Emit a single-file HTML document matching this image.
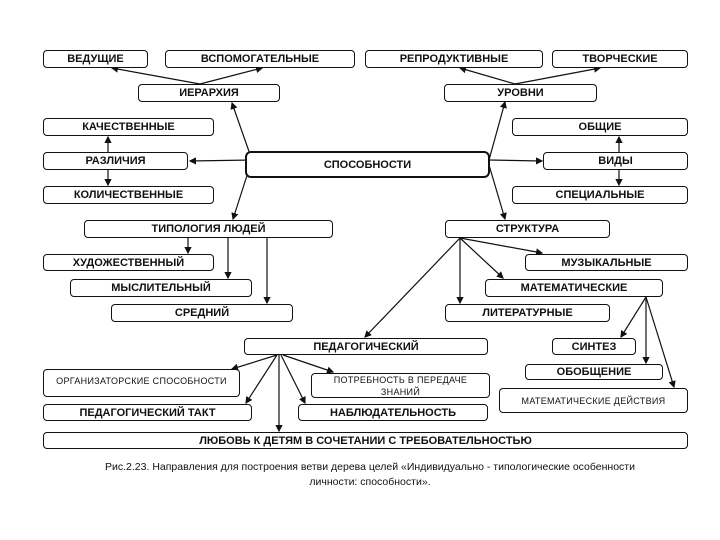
<!DOCTYPE html>
<html><head><meta charset="utf-8"><style>
body{margin:0;background:#fff;width:720px;height:540px;overflow:hidden;position:relative;font-family:"Liberation Sans",sans-serif}
.b{position:absolute;box-sizing:border-box;border:1.3px solid #111;border-radius:4px;background:#fff;display:flex;align-items:center;justify-content:center;font-size:11px;font-weight:bold;color:#111;text-align:center;line-height:12px}
.s{font-weight:normal;font-size:9px;letter-spacing:.3px}
svg{position:absolute;left:0;top:0}
.cap{position:absolute;left:40px;width:660px;text-align:center;font-size:10.5px;line-height:15px;top:460px;color:#111}
</style></head><body>
<svg width="720" height="540">
<defs><marker id="a" markerWidth="6" markerHeight="6" refX="5" refY="3" orient="auto"><path d="M0,0L6,3L0,6z" fill="#111"/></marker></defs>
<g stroke="#111" stroke-width="1.2" fill="none" marker-end="url(#a)">
<line x1="200" y1="84" x2="112" y2="68"/>
<line x1="200" y1="84" x2="262" y2="68"/>
<line x1="515" y1="84" x2="460" y2="68"/>
<line x1="515" y1="84" x2="600" y2="68"/>
<line x1="252" y1="160" x2="232" y2="103"/>
<line x1="252" y1="160" x2="190" y2="161"/>
<line x1="252" y1="160" x2="233" y2="219"/>
<line x1="489" y1="160" x2="505" y2="102"/>
<line x1="489" y1="160" x2="542" y2="161"/>
<line x1="489" y1="165" x2="505" y2="219"/>
<line x1="108" y1="152" x2="108" y2="137"/>
<line x1="108" y1="170" x2="108" y2="185"/>
<line x1="619" y1="152" x2="619" y2="137"/>
<line x1="619" y1="170" x2="619" y2="185"/>
<line x1="188" y1="238" x2="188" y2="253"/>
<line x1="228" y1="238" x2="228" y2="278"/>
<line x1="267" y1="238" x2="267" y2="303"/>
<line x1="460" y1="238" x2="542" y2="253"/>
<line x1="460" y1="238" x2="503" y2="278"/>
<line x1="460" y1="238" x2="460" y2="303"/>
<line x1="460" y1="238" x2="365" y2="337"/>
<line x1="646" y1="297" x2="621" y2="337"/>
<line x1="646" y1="297" x2="646" y2="363"/>
<line x1="646" y1="297" x2="674" y2="387"/>
<line x1="277" y1="355" x2="232" y2="369"/>
<line x1="277" y1="355" x2="246" y2="403"/>
<line x1="281" y1="355" x2="305" y2="403"/>
<line x1="283" y1="355" x2="333" y2="372"/>
<line x1="279" y1="355" x2="279" y2="431"/>
</g></svg>
<div class="b" style="left:43px;top:50px;width:105px;height:18px">ВЕДУЩИЕ</div>
<div class="b" style="left:165px;top:50px;width:190px;height:18px">ВСПОМОГАТЕЛЬНЫЕ</div>
<div class="b" style="left:365px;top:50px;width:178px;height:18px">РЕПРОДУКТИВНЫЕ</div>
<div class="b" style="left:552px;top:50px;width:136px;height:18px">ТВОРЧЕСКИЕ</div>
<div class="b" style="left:138px;top:84px;width:142px;height:18px">ИЕРАРХИЯ</div>
<div class="b" style="left:444px;top:84px;width:153px;height:18px">УРОВНИ</div>
<div class="b" style="left:43px;top:118px;width:171px;height:18px">КАЧЕСТВЕННЫЕ</div>
<div class="b" style="left:512px;top:118px;width:176px;height:18px">ОБЩИЕ</div>
<div class="b" style="left:43px;top:152px;width:145px;height:18px">РАЗЛИЧИЯ</div>
<div class="b" style="left:245px;top:151px;width:245px;height:27px;border-width:2.2px;border-radius:6px">СПОСОБНОСТИ</div>
<div class="b" style="left:543px;top:152px;width:145px;height:18px">ВИДЫ</div>
<div class="b" style="left:43px;top:186px;width:171px;height:18px">КОЛИЧЕСТВЕННЫЕ</div>
<div class="b" style="left:512px;top:186px;width:176px;height:18px">СПЕЦИАЛЬНЫЕ</div>
<div class="b" style="left:84px;top:220px;width:249px;height:18px">ТИПОЛОГИЯ ЛЮДЕЙ</div>
<div class="b" style="left:445px;top:220px;width:165px;height:18px">СТРУКТУРА</div>
<div class="b" style="left:43px;top:254px;width:171px;height:17px">ХУДОЖЕСТВЕННЫЙ</div>
<div class="b" style="left:525px;top:254px;width:163px;height:17px">МУЗЫКАЛЬНЫЕ</div>
<div class="b" style="left:70px;top:279px;width:182px;height:18px">МЫСЛИТЕЛЬНЫЙ</div>
<div class="b" style="left:485px;top:279px;width:178px;height:18px">МАТЕМАТИЧЕСКИЕ</div>
<div class="b" style="left:111px;top:304px;width:182px;height:18px">СРЕДНИЙ</div>
<div class="b" style="left:445px;top:304px;width:165px;height:18px">ЛИТЕРАТУРНЫЕ</div>
<div class="b" style="left:244px;top:338px;width:244px;height:17px">ПЕДАГОГИЧЕСКИЙ</div>
<div class="b" style="left:552px;top:338px;width:84px;height:17px">СИНТЕЗ</div>
<div class="b" style="left:525px;top:364px;width:138px;height:16px">ОБОБЩЕНИЕ</div>
<div class="b s" style="left:43px;top:369px;width:197px;height:28px;align-items:flex-start;padding-top:5px">ОРГАНИЗАТОРСКИЕ СПОСОБНОСТИ</div>
<div class="b s" style="left:311px;top:373px;width:179px;height:25px">ПОТРЕБНОСТЬ В ПЕРЕДАЧЕ<br>ЗНАНИЙ</div>
<div class="b s" style="left:499px;top:388px;width:189px;height:25px">МАТЕМАТИЧЕСКИЕ ДЕЙСТВИЯ</div>
<div class="b" style="left:43px;top:404px;width:209px;height:17px">ПЕДАГОГИЧЕСКИЙ ТАКТ</div>
<div class="b" style="left:298px;top:404px;width:190px;height:17px">НАБЛЮДАТЕЛЬНОСТЬ</div>
<div class="b" style="left:43px;top:432px;width:645px;height:17px">ЛЮБОВЬ К ДЕТЯМ В СОЧЕТАНИИ С ТРЕБОВАТЕЛЬНОСТЬЮ</div>
<div class="cap">Рис.2.23. Направления для построения ветви дерева целей «Индивидуально - типологические особенности<br>личности: способности».</div>
</body></html>
